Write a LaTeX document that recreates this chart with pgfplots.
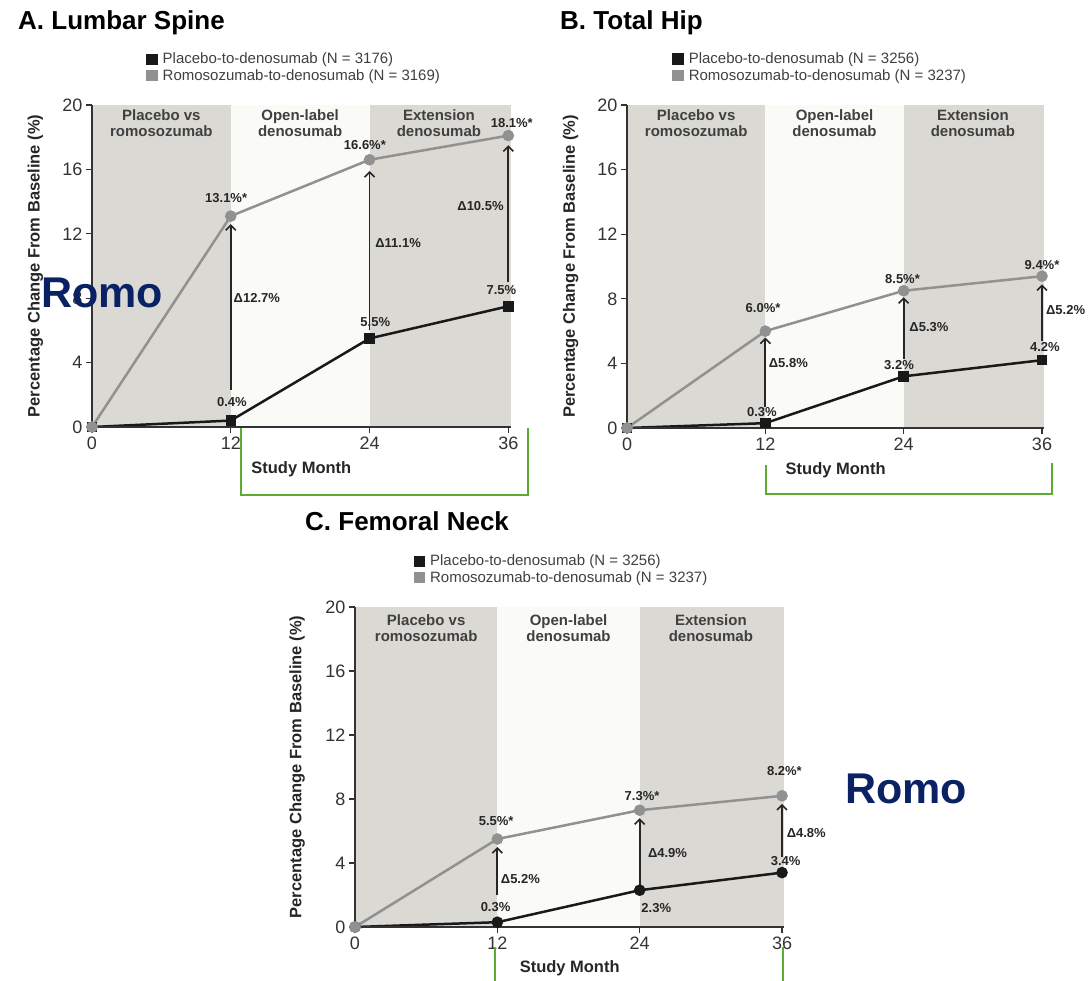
\documentclass[border=0pt]{standalone}
\usepackage{fontspec}
\setmainfont{Liberation Sans}
\usepackage{pgfplots}
\pgfplotsset{compat=1.18}
\usetikzlibrary{arrows.meta}
\definecolor{bandgray}{RGB}{218,217,212}
\definecolor{bandlight}{RGB}{250,250,247}
\definecolor{romogray}{RGB}{145,145,145}
\definecolor{romoblue}{RGB}{10,34,100}
\definecolor{brgreen}{RGB}{92,172,52}
\pgfplotsset{
  panel/.style={scale only axis, xmin=0, xmax=36.2, ymin=0, ymax=20,
    axis lines=left, axis line style={-, line width=1.2pt, black!80},
    axis on top, clip=false,
    xtick={0,12,24,36}, ytick={0,4,8,12,16,20},
    tick align=outside, major tick length=6pt,
    tick style={line width=1.1pt, black!80},
    ticklabel style={font=\fontsize{18}{18}\selectfont, text=black!80},
    /pgf/number format/assume math mode=true,
    xlabel={Study Month}, ylabel={Percentage Change From Baseline (\%)},
    label style={font=\bfseries\fontsize{16.5}{18}\selectfont, text=black!85},
    xlabel style={at={(axis description cs:0.5,-0.13)}, anchor=center},
    ylabel style={at={(axis description cs:-0.135,0.5)}, anchor=center},
    legend style={draw=none, fill=none, anchor=north west,
      font=\fontsize{15}{17}\selectfont, text=black!75, inner sep=0pt, row sep=0pt,
      /tikz/every odd column/.append style={column sep=3pt}},
    legend cell align=left},
  placebo/.style={black!90, line width=2.5pt, mark=square*, mark size=4pt,
    legend image code/.code={\fill[black!90] (0pt,-4.5pt) rectangle (9pt,4.5pt);}},
  placeboc/.style={black!90, line width=2.5pt, mark=*, mark size=4.5pt,
    legend image code/.code={\fill[black!90] (0pt,-4.5pt) rectangle (9pt,4.5pt);}},
  romo/.style={romogray, line width=2.5pt, mark=*, mark size=4.5pt,
    legend image code/.code={\fill[romogray] (0pt,-4.5pt) rectangle (9pt,4.5pt);}},
  band/.style={fill=bandgray, draw=none, forget plot},
  bandl/.style={fill=bandlight, draw=none, forget plot},
}
\tikzset{
  lab/.style={font=\bfseries\fontsize{13}{13}\selectfont, text=black!85, inner sep=1pt},
  blab/.style={font=\bfseries\fontsize{15}{16}\selectfont, text=black!75, align=center},
  arr/.style={line width=1.8pt, black!85, -{Straight Barb[length=5pt,width=10pt,line width=1.6pt]}},
}
\begin{document}
\begin{tikzpicture}
\useasboundingbox (0pt,0pt) rectangle (1091pt,-980pt);
% ---------- A ----------
\begin{axis}[panel, width=418.6pt, height=322pt, at={(92pt,-427pt)}, anchor=south west,
  legend style={at={(0.129,1.168)}}]
\addplot[band] coordinates {(0,20) (12,20)} \closedcycle;
\addplot[bandl] coordinates {(12,20) (24,20)} \closedcycle;
\addplot[band] coordinates {(24,20) (36.2,20)} \closedcycle;
\addplot[placebo] coordinates {(0,0) (12,0.4) (24,5.5) (36,7.5)};
\addlegendentry{Placebo-to-denosumab (N = 3176)}
\addplot[romo] coordinates {(0,0) (12,13.1) (24,16.6) (36,18.1)};
\addlegendentry{Romosozumab-to-denosumab (N = 3169)}
\node[blab] at (axis cs:6,18.9) {Placebo vs\\romosozumab};
\node[blab] at (axis cs:18,18.9) {Open-label\\denosumab};
\node[blab] at (axis cs:30,18.9) {Extension\\denosumab};
\draw[arr] (axis cs:12,2.3) -- (axis cs:12,12.6);
\draw[arr] (axis cs:24,6.0) -- (axis cs:24,15.9);
\draw[arr] (axis cs:36,9.0) -- (axis cs:36,17.5);
\node[lab] at (axis cs:11.6,14.2) {13.1\%*};
\node[lab] at (axis cs:23.6,17.5) {16.6\%*};
\node[lab] at (axis cs:36.3,18.9) {18.1\%*};
\node[lab] at (axis cs:12.1,1.55) {0.4\%};
\node[lab] at (axis cs:24.5,6.5) {5.5\%};
\node[lab] at (axis cs:35.4,8.5) {7.5\%};
\node[lab, anchor=west] at (axis cs:12.15,8.0) {Δ12.7\%};
\node[lab, anchor=west] at (axis cs:24.4,11.4) {Δ11.1\%};
\node[lab, anchor=east] at (axis cs:35.7,13.7) {Δ10.5\%};
\end{axis}
% ---------- B ----------
\begin{axis}[panel, width=417.3pt, height=323pt, at={(627pt,-428pt)}, anchor=south west,
  legend style={at={(0.108,1.168)}}]
\addplot[band] coordinates {(0,20) (12,20)} \closedcycle;
\addplot[bandl] coordinates {(12,20) (24,20)} \closedcycle;
\addplot[band] coordinates {(24,20) (36.2,20)} \closedcycle;
\addplot[placebo] coordinates {(0,0) (12,0.3) (24,3.2) (36,4.2)};
\addlegendentry{Placebo-to-denosumab (N = 3256)}
\addplot[romo] coordinates {(0,0) (12,6.0) (24,8.5) (36,9.4)};
\addlegendentry{Romosozumab-to-denosumab (N = 3237)}
\node[blab] at (axis cs:6,18.9) {Placebo vs\\romosozumab};
\node[blab] at (axis cs:18,18.9) {Open-label\\denosumab};
\node[blab] at (axis cs:30,18.9) {Extension\\denosumab};
\draw[arr] (axis cs:12,1.3) -- (axis cs:12,5.6);
\draw[arr] (axis cs:24,4.3) -- (axis cs:24,8.1);
\draw[arr] (axis cs:36,5.4) -- (axis cs:36,8.9);
\node[lab] at (axis cs:11.8,7.4) {6.0\%*};
\node[lab] at (axis cs:23.9,9.2) {8.5\%*};
\node[lab] at (axis cs:36,10.1) {9.4\%*};
\node[lab] at (axis cs:11.7,1.0) {0.3\%};
\node[lab] at (axis cs:23.6,3.9) {3.2\%};
\node[lab] at (axis cs:36.25,5.0) {4.2\%};
\node[lab, anchor=west] at (axis cs:12.2,4.0) {Δ5.8\%};
\node[lab, anchor=west] at (axis cs:24.4,6.25) {Δ5.3\%};
\node[lab, anchor=west] at (axis cs:36.25,7.3) {Δ5.2\%};
\end{axis}
% ---------- C ----------
\begin{axis}[panel, width=429.4pt, height=320pt, at={(355pt,-927pt)}, anchor=south west,
  legend style={at={(0.136,1.169)}}]
\addplot[band] coordinates {(0,20) (12,20)} \closedcycle;
\addplot[bandl] coordinates {(12,20) (24,20)} \closedcycle;
\addplot[band] coordinates {(24,20) (36.2,20)} \closedcycle;
\addplot[placeboc] coordinates {(0,0) (12,0.3) (24,2.3) (36,3.4)};
\addlegendentry{Placebo-to-denosumab (N = 3256)}
\addplot[romo] coordinates {(0,0) (12,5.5) (24,7.3) (36,8.2)};
\addlegendentry{Romosozumab-to-denosumab (N = 3237)}
\node[blab] at (axis cs:6,18.7) {Placebo vs\\romosozumab};
\node[blab] at (axis cs:18,18.7) {Open-label\\denosumab};
\node[blab] at (axis cs:30,18.7) {Extension\\denosumab};
\draw[arr] (axis cs:12,2.0) -- (axis cs:12,5.0);
\draw[arr] (axis cs:24,2.6) -- (axis cs:24,6.8);
\draw[arr] (axis cs:36,4.4) -- (axis cs:36,7.7);
\node[lab] at (axis cs:11.9,6.6) {5.5\%*};
\node[lab] at (axis cs:24.2,8.2) {7.3\%*};
\node[lab] at (axis cs:36.2,9.75) {8.2\%*};
\node[lab] at (axis cs:11.85,1.25) {0.3\%};
\node[lab] at (axis cs:25.4,1.2) {2.3\%};
\node[lab] at (axis cs:36.3,4.15) {3.4\%};
\node[lab, anchor=west] at (axis cs:12.2,3.0) {Δ5.2\%};
\node[lab, anchor=west] at (axis cs:24.6,4.65) {Δ4.9\%};
\node[lab, anchor=west] at (axis cs:36.3,5.9) {Δ4.8\%};
\end{axis}
% ---------- titles ----------
\node[anchor=base west, inner sep=0pt, font=\bfseries\fontsize{26}{26}\selectfont] at (18pt,-29pt) {A. Lumbar Spine};
\node[anchor=base west, inner sep=0pt, font=\bfseries\fontsize{26}{26}\selectfont] at (560pt,-29pt) {B. Total Hip};
\node[anchor=base west, inner sep=0pt, font=\bfseries\fontsize{26}{26}\selectfont] at (305pt,-530pt) {C. Femoral Neck};
% ---------- green brackets ----------
\draw[brgreen, line width=2.6pt] (241pt,-428pt) -- (241pt,-495pt) -- (528pt,-495pt) -- (528pt,-428pt);
\draw[brgreen, line width=2.6pt] (766pt,-465pt) -- (766pt,-494pt) -- (1052pt,-494pt) -- (1052pt,-463pt);
\draw[brgreen, line width=2.6pt] (495pt,-947pt) -- (495pt,-982pt);
\draw[brgreen, line width=2.6pt] (783pt,-947pt) -- (783pt,-982pt);
% ---------- Romo ----------
\node[anchor=base west, inner sep=0pt, text=romoblue, font=\bfseries\fontsize{43}{43}\selectfont] at (41pt,-307pt) {Romo};
\node[anchor=base west, inner sep=0pt, text=romoblue, font=\bfseries\fontsize{43}{43}\selectfont] at (845pt,-803pt) {Romo};
\end{tikzpicture}
\end{document}
